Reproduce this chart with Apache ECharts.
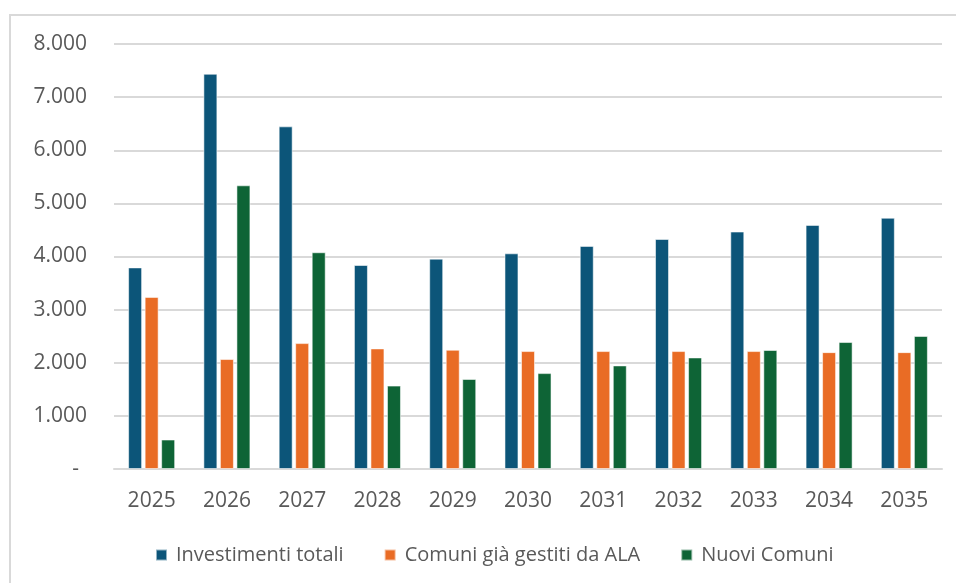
<!DOCTYPE html>
<html>
<head>
<meta charset="utf-8">
<script src="https://cdn.jsdelivr.net/npm/echarts@6/dist/echarts.min.js"></script>
<style>
html,body{margin:0;padding:0;background:#fff;}
#chart{width:956px;height:583px;}
</style>
</head>
<body>
<div id="chart"></div>
<script>
const categories = ['2025','2026','2027','2028','2029','2030','2031','2032','2033','2034','2035'];
const investimentiTotali = [3795, 7440, 6450, 3840, 3960, 4060, 4200, 4330, 4470, 4595, 4730];
const comuniGiaGestiti = [3240, 2070, 2370, 2270, 2245, 2220, 2220, 2220, 2220, 2200, 2200];
const nuoviComuni = [555, 5340, 4080, 1570, 1695, 1805, 1950, 2100, 2240, 2390, 2505];
const yTicks = [0, 1000, 2000, 3000, 4000, 5000, 6000, 7000, 8000];
const seriesNames = ['Investimenti totali', 'Comuni già gestiti da ALA', 'Nuovi Comuni'];

const FONT = 'Open Sans';
const TXT = '#595959';
const chart = echarts.init(document.getElementById('chart'), null, {renderer: 'canvas'});

function fmt(v) {
  if (v === 0) return '{z|-}';
  return String(v).replace(/\B(?=(\d{3})+(?!\d))/g, '.');
}

const barStyle = (c) => ({color: c, borderColor: 'rgba(255,255,255,0.55)', borderWidth: 1});

chart.setOption({
  animation: false,
  backgroundColor: '#ffffff',
  graphic: [{
    type: 'rect',
    shape: {x: 10, y: 15, width: 1200, height: 1200},
    style: {fill: 'none', stroke: '#d9d9d9', lineWidth: 2},
    silent: true
  }],
  grid: {left: 114, right: 14, top: 44, bottom: 114, containLabel: false},
  legend: {
    left: 155,
    top: 545,
    padding: 0,
    itemWidth: 11,
    itemHeight: 11,
    itemGap: 40,
    icon: 'rect',
    data: seriesNames,
    textStyle: {fontFamily: FONT, fontSize: 20, color: TXT, padding: [0, 0, 0, 4]}
  },
  xAxis: {
    type: 'category',
    data: categories,
    axisLine: {show: true, lineStyle: {color: '#d9d9d9', width: 2}},
    axisTick: {show: false},
    axisLabel: {fontFamily: FONT, fontSize: 21, color: TXT, margin: 22}
  },
  yAxis: {
    type: 'value',
    min: yTicks[0],
    max: yTicks[yTicks.length - 1],
    interval: 1000,
    axisLine: {show: false},
    axisTick: {show: false},
    splitLine: {lineStyle: {color: '#d9d9d9', width: 2}},
    axisLabel: {
      fontFamily: FONT, fontSize: 21, color: TXT, margin: 27, formatter: fmt,
      rich: {z: {fontFamily: FONT, fontSize: 21, color: TXT, padding: [0, 8, 0, 0]}}
    }
  },
  series: [
    {name: seriesNames[0], type: 'bar', data: investimentiTotali, barWidth: 14, barGap: '18%', itemStyle: barStyle('#0c5579')},
    {name: seriesNames[1], type: 'bar', data: comuniGiaGestiti, barWidth: 14, barGap: '18%', itemStyle: barStyle('#e96c25')},
    {name: seriesNames[2], type: 'bar', data: nuoviComuni, barWidth: 14, barGap: '18%', itemStyle: barStyle('#0e6436')}
  ]
});
</script>
</body>
</html>
